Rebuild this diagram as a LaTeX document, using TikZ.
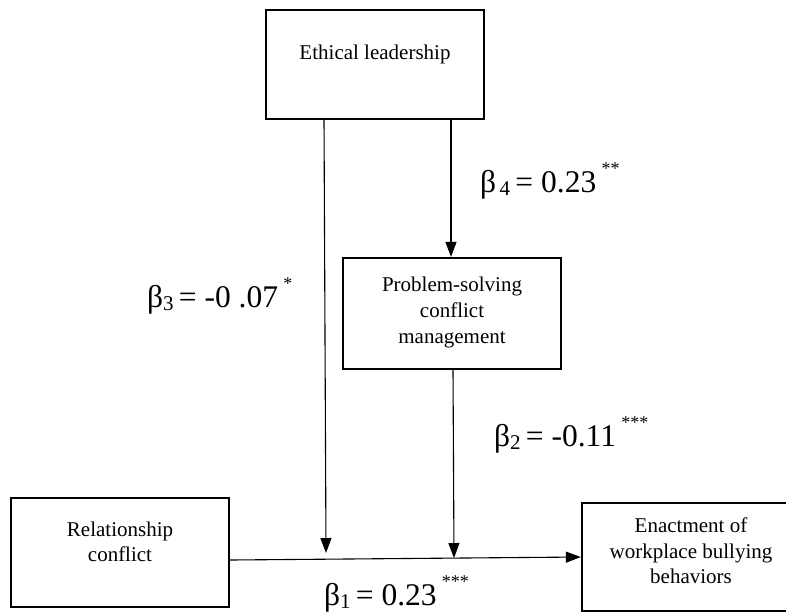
\documentclass[tikz,border=0pt]{standalone}
\usepackage{fontspec}
\setmainfont{Liberation Serif}
\usetikzlibrary{arrows.meta}
\newcommand\blab[3]{\fontsize{31.5}{34}\selectfont β\raisebox{-0.12em}{\fontsize{21}{22}\selectfont #1}\,= #2\,\raisebox{0.55em}{\fontsize{18}{19}\selectfont #3}}
\begin{document}
\begin{tikzpicture}[x=1pt,y=-1pt,
  box/.style={draw,line width=2.3pt,align=center,font=\fontsize{20.5}{25}\selectfont},
  arr/.style={line width=1.1pt,-{Triangle[length=15pt,width=11pt]}},
  lab/.style={anchor=base west,inner sep=0pt}]
\useasboundingbox (0,0) rectangle (786,614);
% boxes
\draw[line width=2.6pt] (266,10) rectangle (484,119);
\node (el) at (375,62) [font=\fontsize{21}{25}\selectfont, yshift=8pt] {Ethical leadership};
\coordinate (elL) at (324,119);
\coordinate (elR) at (451,119);
\node (ps) [box,minimum width=218pt,minimum height=111pt,inner sep=0pt] at (452,313.5) {};
\node at (452,312) [align=center,font=\fontsize{21}{26}\selectfont] {Problem-solving\\conflict\\management};
\node (rc) [box,minimum width=218pt,minimum height=109pt,inner sep=0pt] at (120,552.5) {};
\node at (120,542) [align=center,font=\fontsize{21}{24.5}\selectfont] {Relationship\\conflict};
\node (en) [box,minimum width=210pt,minimum height=108pt,inner sep=0pt] at (687,557) {};
\node at (691,551) [align=center,font=\fontsize{21}{25.5}\selectfont] {Enactment of\\workplace bullying\\behaviors};
% connectors
\coordinate (t3) at (326,553);
\coordinate (t2) at (454,558);
\coordinate (rcE) at (rc.east |- 0,560);
\coordinate (enW) at (en.west |- 0,557);
\draw[arr] (elL) -- (t3);
\draw[arr] (elR) -- (ps.north -| elR);
\draw[arr] (ps.south -| 453,0) -- (t2);
\draw[arr] (rcE) -- (enW);
% labels
\node[lab] (b4) at (480,192) {\blab{\,4}{0.23}{**}};
\node[lab] (b3) at (147,307) {\blab{3}{-0 .07}{*}};
\node[lab] (b2) at (494,446) {\blab{2}{-0.11}{***}};
\node[lab] (b1) at (324,605) {\blab{1}{0.23}{***}};
\end{tikzpicture}
\end{document}
